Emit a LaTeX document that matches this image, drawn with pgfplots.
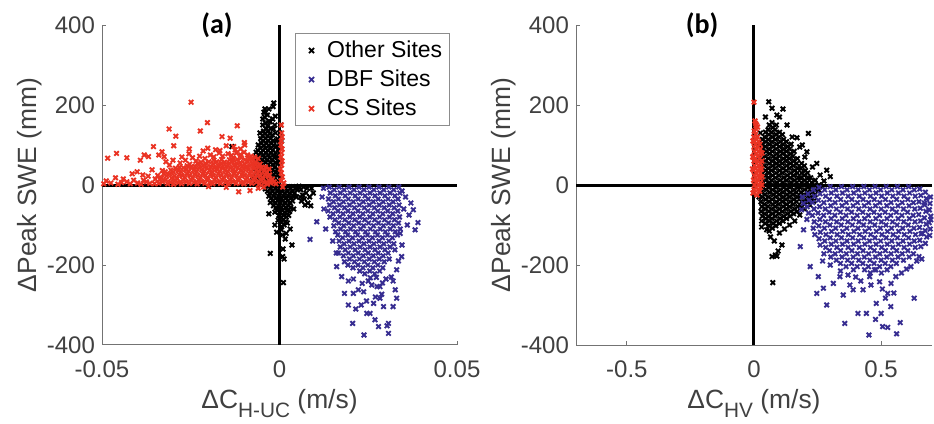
\documentclass[border=0pt]{standalone}
\usepackage{fontspec}
\setmainfont{Liberation Sans}
\newfontfamily\titlefont{Carlito}
\usepackage{pgfplots}
\pgfplotsset{compat=1.18}
\definecolor{csred}{RGB}{234,51,35}
\definecolor{dbfblue}{RGB}{55,45,145}
\definecolor{axgray}{RGB}{64,64,64}
\pgfplotsset{
  myax/.style={
    scale only axis, width=177.5pt, height=160pt,
    axis x line*=bottom, axis y line*=left,
    axis line style={black!55, line width=0.5pt},
    tick style={black!55, line width=0.5pt},
    tick align=inside, major tick length=2.2pt,
    scaled x ticks=false, scaled y ticks=false,
    ymin=-400, ymax=400, ytick={-400,-200,0,200,400},
    yticklabels={-400,-200,0,200,400},
    tick label style={font=\fontsize{12}{14}\selectfont, text=axgray},
    xticklabel style={yshift=-4.5pt},
    label style={font=\fontsize{13.2}{15}\selectfont, text=axgray},
    ylabel style={at={(axis description cs:-0.203,0.5)}, anchor=center},
    xlabel style={at={(axis description cs:0.5,-0.197)}, anchor=base},
    clip=false,
  },
  pts/.style={only marks, mark=x, mark size=1.6pt, mark options={line width=0.95pt}, forget plot},
  zl/.style={black, line width=1.5pt, no markers, forget plot},
}
\begin{document}
\begin{tikzpicture}
\useasboundingbox (0,0) rectangle (467pt,212pt);
% ---------------- panel (a)
\begin{axis}[myax, at={(51pt,39.5pt)}, anchor=south west,
  xmin=-0.05, xmax=0.05, xtick={-0.05,0,0.05}, xticklabels={-0.05,0,0.05},
  xlabel={ΔC\raisebox{-4.5pt}{\fontsize{10.4}{12}\selectfont H-UC} (m/s)},
  ylabel={ΔPeak SWE (mm)},
  legend style={at={(rel axis cs:0.98,0.975)}, anchor=north east, draw=black!45, line width=0.5pt,
    font=\fontsize{11.5}{13.5}\selectfont, inner xsep=2pt, inner ysep=2pt, nodes={inner sep=1.6pt}, row sep=1.5pt},
  legend cell align=left,
  legend image code/.code={\path (0,0) (0.42cm,0); \draw[#1] plot coordinates {(0.21cm,0cm)};},
]
\addlegendimage{only marks, mark=x, mark size=1.8pt, mark options={line width=0.9pt}, black}
\addlegendentry{Other Sites}
\addlegendimage{only marks, mark=x, mark size=1.8pt, mark options={line width=0.9pt}, dbfblue}
\addlegendentry{DBF Sites}
\addlegendimage{only marks, mark=x, mark size=1.8pt, mark options={line width=0.9pt}, csred}
\addlegendentry{CS Sites}
% Other sites (a)
\addplot[pts, black] coordinates {
(-.0068,8)(-.0070,20)(-.0066,32)(-.0069,44)(-.0067,56)(-.0065,68)
(-.0061,3)(-.0063,15)(-.0059,27)(-.0062,39)(-.0060,51)(-.0063,63)(-.0059,75)(-.0061,87)
(-.0054,8)(-.0056,20)(-.0052,32)(-.0055,44)(-.0053,56)(-.0056,68)(-.0052,80)(-.0054,92)(-.0051,104)(-.0053,116)
(-.0047,3)(-.0049,15)(-.0045,27)(-.0048,39)(-.0046,51)(-.0049,63)(-.0045,75)(-.0047,87)(-.0044,99)(-.0046,111)(-.0048,123)(-.0045,135)(-.0047,150)
(-.0040,8)(-.0042,20)(-.0038,32)(-.0041,44)(-.0039,56)(-.0042,68)(-.0038,80)(-.0040,92)(-.0037,104)(-.0039,116)(-.0041,128)(-.0038,140)(-.0040,155)(-.0042,170)(-.0039,182)(-.0041,190)
(-.0033,3)(-.0035,15)(-.0031,27)(-.0034,39)(-.0032,51)(-.0035,63)(-.0031,75)(-.0033,87)(-.0030,99)(-.0032,111)(-.0034,123)(-.0031,135)(-.0033,147)(-.0030,160)(-.0034,175)
(-.0026,8)(-.0028,20)(-.0024,32)(-.0027,44)(-.0025,56)(-.0028,68)(-.0024,80)(-.0026,92)(-.0023,104)(-.0025,116)(-.0027,128)(-.0024,142)(-.0026,158)
(-.0019,3)(-.0021,15)(-.0017,27)(-.0020,39)(-.0018,51)(-.0021,63)(-.0017,75)(-.0019,87)(-.0016,99)(-.0018,111)(-.0020,125)(-.0017,140)(-.0019,165)(-.0018,196)
(-.0012,8)(-.0014,20)(-.0010,32)(-.0013,44)(-.0011,56)(-.0014,68)(-.0010,80)(-.0012,95)(-.0009,110)(-.0011,130)(-.0013,150)
(-.0005,-3)(-.0007,10)(-.0003,25)(-.0006,40)(-.0004,55)(-.0007,70)(-.0003,90)(-.0005,115)
(-.0032,-4)(-.0034,-16)(-.0030,-28)
(-.0025,-8)(-.0027,-20)(-.0023,-32)(-.0026,-44)
(-.0018,-4)(-.0020,-16)(-.0016,-28)(-.0019,-40)(-.0017,-52)
(-.0011,-8)(-.0013,-20)(-.0009,-32)(-.0012,-44)(-.0010,-56)(-.0013,-68)
(-.0004,-4)(-.0006,-16)(-.0002,-28)(-.0005,-40)(-.0003,-52)(-.0006,-64)(-.0002,-76)(-.0004,-88)
(.0003,-8)(.0001,-20)(.0005,-32)(.0002,-44)(.0004,-56)(.0001,-68)(.0005,-80)(.0003,-92)(.0006,-104)
(.0010,-4)(.0008,-16)(.0012,-28)(.0009,-40)(.0011,-52)(.0008,-64)(.0012,-76)(.0010,-88)(.0013,-100)
(.0017,-8)(.0015,-20)(.0019,-32)(.0016,-44)(.0018,-56)(.0015,-68)(.0019,-80)(.0017,-92)
(.0024,-4)(.0022,-16)(.0026,-28)(.0023,-40)(.0025,-52)(.0022,-64)(.0026,-76)
(.0031,-8)(.0029,-20)(.0033,-32)(.0030,-44)(.0032,-56)(.0029,-66)
(.0038,-4)(.0036,-16)(.0040,-28)(.0037,-40)
(.0045,-8)(.0043,-20)(.0047,-30)
(-.0026,-171)(.0011,-244)(.0035,-150)(-.0008,-118)(.0009,-179)(.0019,-121)(.0016,-135)(.0010,-160)(.0013,-185)(.0030,-110)(.0005,-112)(-.0134,96)(-.0030,-72)
(.0055,-3)(.0060,-12)(.0065,-25)(.0070,-35)(.0075,-20)(.0080,-45)(.0085,-30)(.0090,-8)(.0072,-50)(.0062,-40)(.0095,-20)(.0068,-5)(.0078,-8)(.0058,-30)(.0088,-52)
(-.0016,205)(-.0044,182)(-.0030,190)(-.0012,172)(-.0047,165)(-.0055,130)(-.0060,100)(-.0066,82)(-.0072,40)(-.0075,20)(-.0070,10)
(.0002,130)(.0004,150)(.0006,110)(-.0002,95)(.0001,60)(-.0013,-100)(.0022,-95)(.0008,-125)(.0040,-60)(-.0040,-10)(.0050,-12)
};
% DBF sites (a)
\addplot[pts, dbfblue] coordinates {
(.0140,-5)(.0143,-20)(.0138,-35)(.0141,-50)(.0137,-65)(.0142,-80)
(.0154,-12)(.0157,-27)(.0152,-42)(.0155,-57)(.0151,-72)(.0156,-87)(.0153,-102)(.0158,-117)
(.0168,-5)(.0171,-20)(.0166,-35)(.0169,-50)(.0165,-65)(.0170,-80)(.0167,-95)(.0172,-110)(.0164,-125)(.0168,-140)(.0171,-155)(.0166,-170)
(.0182,-12)(.0185,-27)(.0180,-42)(.0183,-57)(.0179,-72)(.0184,-87)(.0181,-102)(.0186,-117)(.0178,-132)(.0182,-147)(.0185,-162)(.0180,-177)(.0183,-192)
(.0196,-5)(.0199,-20)(.0194,-35)(.0197,-50)(.0193,-65)(.0198,-80)(.0195,-95)(.0200,-110)(.0192,-125)(.0196,-140)(.0199,-155)(.0194,-170)(.0197,-185)(.0193,-200)
(.0210,-12)(.0213,-27)(.0208,-42)(.0211,-57)(.0207,-72)(.0212,-87)(.0209,-102)(.0214,-117)(.0206,-132)(.0210,-147)(.0213,-162)(.0208,-177)(.0211,-192)(.0207,-207)
(.0224,-5)(.0227,-20)(.0222,-35)(.0225,-50)(.0221,-65)(.0226,-80)(.0223,-95)(.0228,-110)(.0220,-125)(.0224,-140)(.0227,-155)(.0222,-170)(.0225,-185)(.0221,-200)(.0226,-215)
(.0238,-12)(.0241,-27)(.0236,-42)(.0239,-57)(.0235,-72)(.0240,-87)(.0237,-102)(.0242,-117)(.0234,-132)(.0238,-147)(.0241,-162)(.0236,-177)(.0239,-192)(.0235,-207)(.0240,-222)
(.0252,-5)(.0255,-20)(.0250,-35)(.0253,-50)(.0249,-65)(.0254,-80)(.0251,-95)(.0256,-110)(.0248,-125)(.0252,-140)(.0255,-155)(.0250,-170)(.0253,-185)(.0249,-200)(.0254,-215)
(.0266,-12)(.0269,-27)(.0264,-42)(.0267,-57)(.0263,-72)(.0268,-87)(.0265,-102)(.0270,-117)(.0262,-132)(.0266,-147)(.0269,-162)(.0264,-177)(.0267,-192)(.0263,-207)(.0268,-222)
(.0280,-5)(.0283,-20)(.0278,-35)(.0281,-50)(.0277,-65)(.0282,-80)(.0279,-95)(.0284,-110)(.0276,-125)(.0280,-140)(.0283,-155)(.0278,-170)(.0281,-185)(.0277,-200)(.0282,-215)
(.0294,-12)(.0297,-27)(.0292,-42)(.0295,-57)(.0291,-72)(.0296,-87)(.0293,-102)(.0298,-117)(.0290,-132)(.0294,-147)(.0297,-162)(.0292,-177)(.0295,-192)(.0291,-207)
(.0308,-5)(.0311,-20)(.0306,-35)(.0309,-50)(.0305,-65)(.0310,-80)(.0307,-95)(.0312,-110)(.0304,-125)(.0308,-140)(.0311,-155)(.0306,-170)(.0309,-185)
(.0322,-12)(.0325,-27)(.0320,-42)(.0323,-57)(.0319,-72)(.0324,-87)(.0321,-102)(.0326,-117)(.0318,-132)(.0322,-147)(.0325,-162)
(.0336,-5)(.0339,-20)(.0334,-35)(.0337,-50)(.0333,-65)(.0338,-80)(.0335,-95)(.0340,-110)(.0332,-125)
(.0105,-92)(.0124,-8)(.0086,-136)(.0390,-94)(.0382,-112)(.0370,-45)(.0377,-62)(.0365,-75)(.0360,-100)(.0350,-60)(.0355,-30)(.0345,-15)(.0340,-121)(.0344,-179)
(.0330,-212)(.0330,-283)(.0326,-262)(.0320,-304)(.0307,-371)(.0307,-346)(.0303,-352)(.0279,-354)(.0269,-337)(.0255,-321)(.0246,-321)(.0238,-375)(.0206,-346)
(.0194,-300)(.0183,-271)(.0208,-271)(.0237,-267)(.0265,-296)(.0283,-283)(.0293,-304)(.0275,-254)(.0233,-246)(.0283,-254)(.0161,-204)(.0175,-229)(.0194,-240)
(.0208,-235)(.0222,-262)(.0250,-240)(.0260,-250)(.0290,-245)(.0300,-235)(.0315,-230)(.0320,-240)(.0335,-190)(.0345,-150)(.0130,-110)(.0125,-60)(.0120,-30)
(.0150,-140)(.0160,-170)(.0273,-231)(.0256,-232)(.0288,-273)(.0270,-280)(.0245,-290)(.0230,-300)(.0215,-310)
};
% CS sites (a)
\addplot[pts, csred] coordinates {
(-.0340,4)(-.0337,14)(-.0343,24)
(-.0329,8)(-.0332,18)(-.0326,28)(-.0330,36)
(-.0315,3)(-.0320,13)(-.0318,23)(-.0322,33)
(-.0307,7)(-.0304,17)(-.0310,27)(-.0306,37)
(-.0298,2)(-.0294,12)(-.0296,22)(-.0299,32)(-.0293,42)
(-.0285,6)(-.0288,16)(-.0283,26)(-.0286,36)(-.0282,45)
(-.0276,3)(-.0272,13)(-.0274,23)(-.0277,33)(-.0271,43)
(-.0263,8)(-.0266,18)(-.0261,28)(-.0264,38)(-.0260,48)
(-.0254,4)(-.0250,14)(-.0252,24)(-.0255,34)(-.0249,44)(-.0253,52)
(-.0241,7)(-.0244,17)(-.0239,27)(-.0242,37)(-.0238,47)
(-.0232,3)(-.0228,13)(-.0230,23)(-.0233,33)(-.0227,43)(-.0231,53)
(-.0219,8)(-.0222,18)(-.0217,28)(-.0220,38)(-.0216,48)(-.0221,57)
(-.0210,4)(-.0206,14)(-.0208,24)(-.0211,34)(-.0205,44)(-.0209,54)
(-.0197,6)(-.0200,16)(-.0195,26)(-.0198,36)(-.0194,46)(-.0199,58)
(-.0188,3)(-.0184,13)(-.0186,23)(-.0189,33)(-.0183,43)(-.0187,53)(-.0185,62)
(-.0175,8)(-.0178,18)(-.0173,28)(-.0176,38)(-.0172,48)(-.0177,58)
(-.0166,4)(-.0162,14)(-.0164,24)(-.0167,34)(-.0161,44)(-.0165,54)(-.0163,64)
(-.0153,7)(-.0156,17)(-.0151,27)(-.0154,37)(-.0150,47)(-.0155,57)
(-.0144,3)(-.0140,13)(-.0142,23)(-.0145,33)(-.0139,43)(-.0143,53)(-.0141,63)
(-.0131,8)(-.0134,18)(-.0129,28)(-.0132,38)(-.0128,48)(-.0133,58)(-.0130,67)
(-.0122,4)(-.0118,14)(-.0120,24)(-.0123,34)(-.0117,44)(-.0121,54)(-.0119,64)
(-.0109,6)(-.0112,16)(-.0107,26)(-.0110,36)(-.0106,46)(-.0111,56)(-.0108,68)
(-.0100,3)(-.0096,13)(-.0098,23)(-.0101,33)(-.0095,43)(-.0099,53)(-.0097,63)
(-.0087,8)(-.0090,18)(-.0085,28)(-.0088,38)(-.0084,48)(-.0089,58)(-.0086,66)
(-.0078,4)(-.0074,14)(-.0076,24)(-.0079,34)(-.0073,44)(-.0077,54)(-.0075,62)
(-.0065,7)(-.0068,17)(-.0063,27)(-.0066,37)(-.0062,47)(-.0067,57)
(-.0056,3)(-.0052,13)(-.0054,23)(-.0057,33)(-.0051,43)(-.0055,52)
(-.0043,6)(-.0046,16)(-.0041,26)(-.0044,36)(-.0040,45)
(-.0034,2)(-.0030,12)(-.0032,22)(-.0035,32)(-.0029,40)
(-.0249,207)(-.0203,156)(-.0223,135)(-.0119,148)(-.0311,140)(-.0292,122)(-.0162,121)(-.0139,117)(-.0099,106)(-.0098,100)
(-.0484,67)(-.0459,79)(-.0430,68)(-.0355,96)(-.0381,75)(-.0392,62)(-.0254,90)(-.0298,98)(-.0202,92)(-.0168,86)(-.0150,98)(-.0129,96)
(-.0331,83)(-.0325,71)(-.0340,75)(-.0369,71)(-.0401,33)(-.0462,18)(-.0488,10)(-.0430,8)(-.0359,38)(-.0411,12)(-.0383,12)(-.0115,-17)(-.0083,-14)
(-.0495,3)(-.0475,5)(-.0455,2)(-.0445,6)(-.0420,3)(-.0400,5)(-.0390,2)(-.0375,8)(-.0365,4)(-.0350,15)(-.0352,3)(-.0370,22)(-.0385,25)(-.0415,28)(-.0440,15)
(-.0280,55)(-.0265,62)(-.0245,68)(-.0235,60)(-.0225,72)(-.0210,66)(-.0195,75)(-.0185,70)(-.0170,80)(-.0160,72)(-.0145,78)(-.0135,74)(-.0122,80)(-.0110,76)
(-.0100,82)(-.0090,75)(-.0080,72)(-.0070,70)(-.0060,66)(-.0310,50)(-.0320,58)(-.0300,62)(-.0275,70)(-.0255,78)(-.0215,85)(-.0180,88)(-.0110,90)(-.0125,88)
(-.0025,5)(-.0020,15)(-.0015,8)(-.0010,3)(-.0028,25)
(.0004,10)(.0005,30)(.0006,50)(.0004,70)(.0007,90)(.0005,110)(.0006,130)(.0005,150)(.0008,20)(.0009,-5)(.0012,5)(.0003,40)(.0007,60)(.0006,80)(.0004,100)(.0007,120)
(-.0200,-4)(-.0150,-6)(-.0060,-8)(-.0045,-5)
};
\addplot[zl] coordinates {(-0.05,0)(0.05,0)};
\addplot[zl] coordinates {(0,-400)(0,400)};
\node[font=\fontsize{14}{16}\titlefont\bfseries] at (rel axis cs:0.324,1) {(a)};
\end{axis}
% ---------------- panel (b)
\begin{axis}[myax, at={(288pt,39.5pt)}, anchor=south west, width=178pt,
  xmin=-0.7, xmax=0.7, xtick={-0.5,0,0.5}, xticklabels={-0.5,0,0.5},
  xlabel={ΔC\raisebox{-4.5pt}{\fontsize{10.4}{12}\selectfont HV} (m/s)},
  ylabel={ΔPeak SWE (mm)},
]
% Other sites (b)
\addplot[pts, black] coordinates {
(.030,-90)(.033,-78)(.028,-66)(.031,-54)(.027,-42)(.032,-30)(.029,-18)(.034,-6)(.030,6)(.033,18)(.028,30)(.031,42)(.027,54)(.032,66)(.029,78)(.034,90)(.030,102)(.033,114)
(.044,-96)(.047,-84)(.042,-72)(.045,-60)(.041,-48)(.046,-36)(.043,-24)(.048,-12)(.044,0)(.047,12)(.042,24)(.045,36)(.041,48)(.046,60)(.043,72)(.048,84)(.044,96)(.047,108)(.042,120)(.045,132)
(.058,-102)(.061,-90)(.056,-78)(.059,-66)(.055,-54)(.060,-42)(.057,-30)(.062,-18)(.058,-6)(.061,6)(.056,18)(.059,30)(.055,42)(.060,54)(.057,66)(.062,78)(.058,90)(.061,102)(.056,114)(.059,126)(.055,138)(.060,150)
(.072,-108)(.075,-96)(.070,-84)(.073,-72)(.069,-60)(.074,-48)(.071,-36)(.076,-24)(.072,-12)(.075,0)(.070,12)(.073,24)(.069,36)(.074,48)(.071,60)(.076,72)(.072,84)(.075,96)(.070,108)(.073,120)(.069,132)(.074,144)(.071,156)
(.086,-102)(.089,-90)(.084,-78)(.087,-66)(.083,-54)(.088,-42)(.085,-30)(.090,-18)(.086,-6)(.089,6)(.084,18)(.087,30)(.083,42)(.088,54)(.085,66)(.090,78)(.086,90)(.089,102)(.084,114)(.087,126)(.083,138)(.088,150)
(.100,-96)(.103,-84)(.098,-72)(.101,-60)(.097,-48)(.102,-36)(.099,-24)(.104,-12)(.100,0)(.103,12)(.098,24)(.101,36)(.097,48)(.102,60)(.099,72)(.104,84)(.100,96)(.103,108)(.098,120)(.101,132)
(.114,-90)(.117,-78)(.112,-66)(.115,-54)(.111,-42)(.116,-30)(.113,-18)(.118,-6)(.114,6)(.117,18)(.112,30)(.115,42)(.111,54)(.116,66)(.113,78)(.118,90)(.114,102)(.117,114)(.112,126)
(.128,-84)(.131,-72)(.126,-60)(.129,-48)(.125,-36)(.130,-24)(.127,-12)(.132,0)(.128,12)(.131,24)(.126,36)(.129,48)(.125,60)(.130,72)(.127,84)(.132,96)(.128,108)
(.142,-78)(.145,-66)(.140,-54)(.143,-42)(.139,-30)(.144,-18)(.141,-6)(.146,6)(.142,18)(.145,30)(.140,42)(.143,54)(.139,66)(.144,78)(.141,90)(.146,102)
(.156,-72)(.159,-60)(.154,-48)(.157,-36)(.153,-24)(.158,-12)(.155,0)(.160,12)(.156,24)(.159,36)(.154,48)(.157,60)(.153,72)(.158,84)
(.170,-66)(.173,-54)(.168,-42)(.171,-30)(.167,-18)(.172,-6)(.169,6)(.174,18)(.170,30)(.173,42)(.168,54)(.171,66)
(.184,-54)(.187,-42)(.182,-30)(.185,-18)(.181,-6)(.186,6)(.183,18)(.188,30)(.184,42)(.187,54)
(.198,-48)(.201,-36)(.196,-24)(.199,-12)(.195,0)(.200,12)(.197,24)(.202,36)(.198,48)
(.212,-42)(.215,-30)(.210,-18)(.213,-6)(.209,6)(.214,18)(.211,30)
(.226,-30)(.229,-18)(.224,-6)(.227,6)(.223,18)
(.240,-24)(.243,-12)(.238,0)(.241,12)
(.254,-12)(.256,0)
(.058,208)(.071,192)(.114,190)(.045,170)(.090,175)(.100,170)(.130,150)(.150,120)(.169,118)(.214,129)(.208,83)(.247,54)(.286,37)(.300,21)
(.180,95)(.200,70)(.230,45)(.260,25)(.275,10)(.190,100)(.074,-244)(.071,-179)(.084,-175)(.090,-178)(.110,-150)(.065,-130)(.080,-140)(.060,-115)
(.100,-120)(.120,-110)(.140,-100)(.095,-165)(.050,-112)(.030,-105)(.270,-5)(.020,-30)(.020,60)(.020,100)(.025,130)(.160,-90)(.180,-75)(.200,-60)(.220,-50)(.235,-40)
};
% DBF sites (b)
\addplot[pts, dbfblue] coordinates {
(.190,-30)(.194,-46)(.187,-62)
(.212,-22)(.216,-38)(.209,-54)(.214,-70)(.208,-86)
(.234,-12)(.238,-28)(.231,-44)(.236,-60)(.230,-76)(.237,-92)(.233,-108)(.239,-124)
(.256,-6)(.260,-22)(.253,-38)(.258,-54)(.252,-70)(.259,-86)(.255,-102)(.261,-118)(.256,-134)(.260,-150)
(.278,-12)(.282,-28)(.275,-44)(.280,-60)(.274,-76)(.281,-92)(.277,-108)(.283,-124)(.278,-140)(.282,-156)(.275,-172)
(.300,-4)(.304,-20)(.297,-36)(.302,-52)(.296,-68)(.303,-84)(.299,-100)(.305,-116)(.300,-132)(.304,-148)(.297,-164)(.302,-180)
(.322,-12)(.326,-28)(.319,-44)(.324,-60)(.318,-76)(.325,-92)(.321,-108)(.327,-124)(.322,-140)(.326,-156)(.319,-172)(.324,-188)
(.344,-4)(.348,-20)(.341,-36)(.346,-52)(.340,-68)(.347,-84)(.343,-100)(.349,-116)(.344,-132)(.348,-148)(.341,-164)(.346,-180)(.340,-196)
(.366,-12)(.370,-28)(.363,-44)(.368,-60)(.362,-76)(.369,-92)(.365,-108)(.371,-124)(.366,-140)(.370,-156)(.363,-172)(.368,-188)(.362,-204)
(.388,-4)(.392,-20)(.385,-36)(.390,-52)(.384,-68)(.391,-84)(.387,-100)(.393,-116)(.388,-132)(.392,-148)(.385,-164)(.390,-180)(.384,-196)(.391,-212)
(.410,-12)(.414,-28)(.407,-44)(.412,-60)(.406,-76)(.413,-92)(.409,-108)(.415,-124)(.410,-140)(.414,-156)(.407,-172)(.412,-188)(.406,-204)
(.432,-4)(.436,-20)(.429,-36)(.434,-52)(.428,-68)(.435,-84)(.431,-100)(.437,-116)(.432,-132)(.436,-148)(.429,-164)(.434,-180)(.428,-196)(.435,-212)
(.454,-12)(.458,-28)(.451,-44)(.456,-60)(.450,-76)(.457,-92)(.453,-108)(.459,-124)(.454,-140)(.458,-156)(.451,-172)(.456,-188)(.450,-204)(.457,-220)
(.476,-4)(.480,-20)(.473,-36)(.478,-52)(.472,-68)(.479,-84)(.475,-100)(.481,-116)(.476,-132)(.480,-148)(.473,-164)(.478,-180)(.472,-196)(.479,-212)
(.498,-12)(.502,-28)(.495,-44)(.500,-60)(.494,-76)(.501,-92)(.497,-108)(.503,-124)(.498,-140)(.502,-156)(.495,-172)(.500,-188)(.494,-204)(.501,-220)
(.520,-4)(.524,-20)(.517,-36)(.522,-52)(.516,-68)(.523,-84)(.519,-100)(.525,-116)(.520,-132)(.524,-148)(.517,-164)(.522,-180)(.516,-196)(.523,-212)
(.542,-12)(.546,-28)(.539,-44)(.544,-60)(.538,-76)(.545,-92)(.541,-108)(.547,-124)(.542,-140)(.546,-156)(.539,-172)(.544,-188)(.538,-204)
(.564,-4)(.568,-20)(.561,-36)(.566,-52)(.560,-68)(.567,-84)(.563,-100)(.569,-116)(.564,-132)(.568,-148)(.561,-164)(.566,-180)(.560,-196)
(.586,-12)(.590,-28)(.583,-44)(.588,-60)(.582,-76)(.589,-92)(.585,-108)(.591,-124)(.586,-140)(.590,-156)(.583,-172)(.588,-188)
(.608,-4)(.612,-20)(.605,-36)(.610,-52)(.604,-68)(.611,-84)(.607,-100)(.613,-116)(.608,-132)(.612,-148)(.605,-164)(.610,-180)
(.630,-12)(.634,-28)(.627,-44)(.632,-60)(.626,-76)(.633,-92)(.629,-108)(.635,-124)(.630,-140)(.634,-156)(.627,-172)
(.652,-10)(.656,-26)(.649,-42)(.654,-58)(.648,-74)(.655,-90)(.651,-106)(.657,-122)(.652,-138)(.656,-154)
(.674,-18)(.678,-34)(.671,-50)(.676,-66)(.670,-82)(.677,-98)(.673,-114)(.679,-130)(.674,-146)
(.694,-30)(.692,-46)(.690,-62)(.695,-78)(.689,-94)(.693,-110)(.691,-126)
(.442,-321)(.452,-375)(.478,-336)(.500,-321)(.506,-354)(.526,-356)(.561,-372)(.575,-344)(.357,-346)(.409,-321)(.286,-300)(.247,-271)(.273,-258)
(.312,-246)(.338,-229)(.351,-275)(.390,-262)(.429,-262)(.481,-296)(.538,-304)(.526,-271)(.517,-283)(.539,-246)(.558,-229)(.630,-283)(.617,-204)
(.649,-179)(.662,-121)(.695,-87)(.688,-62)(.670,-45)(.253,-229)(.221,-204)(.182,-154)(.195,-112)(.377,-250)(.455,-229)(.494,-242)(.474,-212)
(.420,-240)(.460,-250)(.505,-260)(.550,-270)(.400,-230)(.370,-225)(.340,-215)(.300,-200)(.270,-190)(.600,-210)(.580,-220)(.640,-190)(.660,-185)
};
% CS sites (b)
\addplot[pts, csred] coordinates {
(.000,-12)(.002,0)(-.002,12)(.001,24)(-.001,36)(.002,48)(.000,60)(-.002,72)(.001,84)(.000,96)(.002,108)(-.001,120)(.001,135)
(.008,-6)(.010,6)(.006,18)(.009,30)(.007,42)(.010,54)(.006,66)(.008,78)(.009,90)(.007,102)(.010,114)(.006,126)(.008,140)
(.016,-12)(.018,0)(.014,12)(.017,24)(.015,36)(.018,48)(.014,60)(.016,72)(.017,84)(.015,96)(.018,108)(.014,120)
(.024,-6)(.026,6)(.022,18)(.025,30)(.023,42)(.026,54)(.022,66)(.024,78)(.025,90)(.023,102)
(.031,0)(.032,20)(.030,40)(.031,60)(.032,80)
(.000,207)(.006,154)(.010,150)(.004,160)(-.004,110)(.014,145)(-.004,-20)(.012,-25)(.022,-15)(-.006,40)(-.005,70)
};
\addplot[zl] coordinates {(-0.7,0)(0.7,0)};
\addplot[zl] coordinates {(0,-400)(0,400)};
\node[font=\fontsize{14}{16}\titlefont\bfseries] at (rel axis cs:0.354,1) {(b)};
\end{axis}
\end{tikzpicture}
\end{document}
